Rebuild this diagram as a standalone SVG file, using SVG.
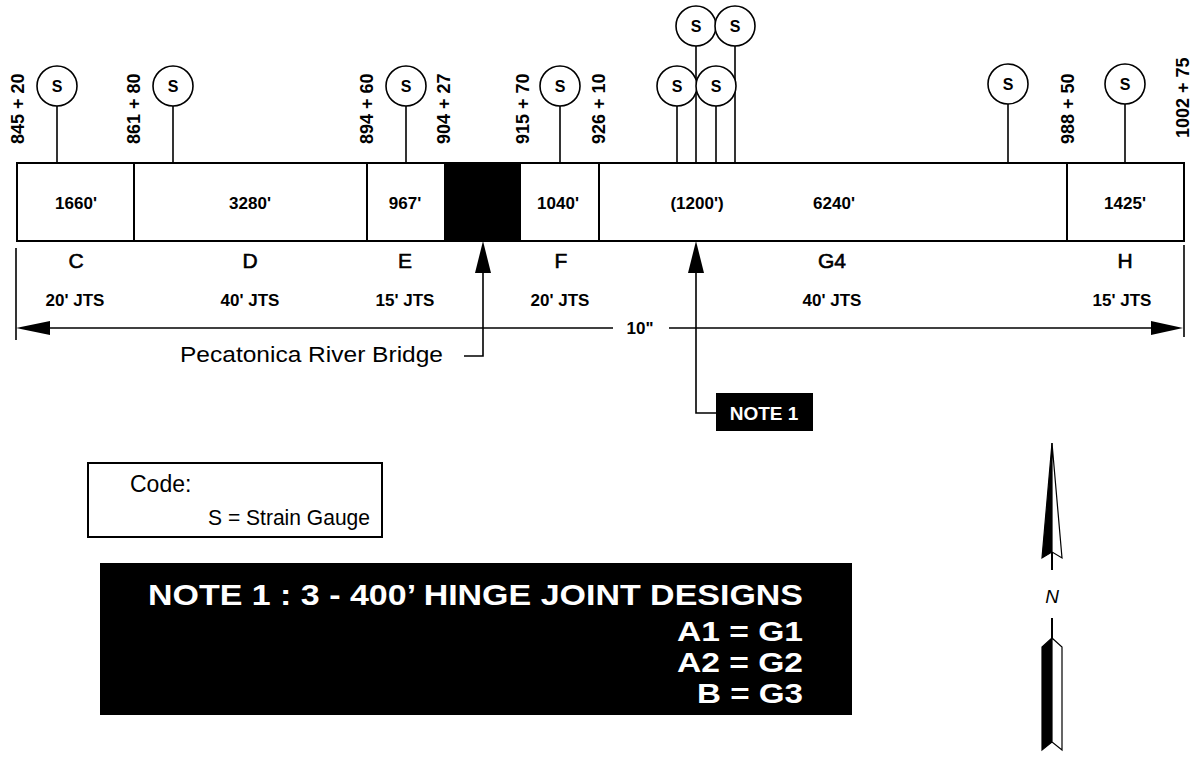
<svg xmlns="http://www.w3.org/2000/svg" width="1198" height="761" viewBox="0 0 1198 761">
<style>
text{font-family:"Liberation Sans",Arial,Helvetica,sans-serif;fill:#000}
.st{font-size:18px;font-weight:bold}
.seg{font-size:17px;font-weight:bold;text-anchor:middle}
.let{font-size:21px;text-anchor:middle;stroke:#000;stroke-width:0.6}
.jts{font-size:17px;font-weight:bold;text-anchor:middle}
.s{font-size:16px;font-weight:bold;text-anchor:middle}
.ln{stroke:#000;stroke-width:2;fill:none}
.thin{stroke:#000;stroke-width:1.6;fill:none}
.circ{stroke:#000;stroke-width:1.6;fill:#fff}
.wt{fill:#fff;font-weight:bold;text-anchor:end}
</style>
<rect width="1198" height="761" fill="#fff"/>

<g id="bar">
<rect x="17" y="163" width="1167" height="78" class="ln"/>
<rect x="444" y="163" width="77" height="78" fill="#000"/>
<line x1="134" y1="163" x2="134" y2="241" class="ln"/>
<line x1="367" y1="163" x2="367" y2="241" class="ln"/>
<line x1="599" y1="163" x2="599" y2="241" class="ln"/>
<line x1="1067" y1="163" x2="1067" y2="241" class="ln"/>
<text class="seg" x="76" y="209">1660'</text>
<text class="seg" x="250" y="209">3280'</text>
<text class="seg" x="405" y="209">967'</text>
<text class="seg" x="558" y="209">1040'</text>
<text class="seg" x="697" y="209">(1200')</text>
<text class="seg" x="834" y="209">6240'</text>
<text class="seg" x="1125" y="209">1425'</text>
</g>

<g id="stations">
<text class="st" transform="translate(23.5,144) rotate(-90)">845 + 20</text>
<text class="st" transform="translate(139.5,144) rotate(-90)">861 + 80</text>
<text class="st" transform="translate(372.5,144) rotate(-90)">894 + 60</text>
<text class="st" transform="translate(449.5,144) rotate(-90)">904 + 27</text>
<text class="st" transform="translate(528.5,144) rotate(-90)">915 + 70</text>
<text class="st" transform="translate(604.5,144) rotate(-90)">926 + 10</text>
<text class="st" transform="translate(1073.5,144) rotate(-90)">988 + 50</text>
<text class="st" transform="translate(1188.5,138) rotate(-90)">1002 + 75</text>
</g>

<g id="connectors">
<line x1="57" y1="106" x2="57" y2="163" class="thin"/>
<line x1="173" y1="106" x2="173" y2="163" class="thin"/>
<line x1="406" y1="106" x2="406" y2="163" class="thin"/>
<line x1="560" y1="106" x2="560" y2="163" class="thin"/>
<line x1="677" y1="106" x2="677" y2="163" class="thin"/>
<line x1="716" y1="106" x2="716" y2="163" class="thin"/>
<line x1="696" y1="46" x2="696" y2="163" class="thin"/>
<line x1="735" y1="46" x2="735" y2="163" class="thin"/>
<line x1="1008" y1="104" x2="1008" y2="163" class="thin"/>
<line x1="1125" y1="104" x2="1125" y2="163" class="thin"/>
<line x1="16" y1="248" x2="16" y2="340" class="thin"/>
<line x1="1184" y1="245" x2="1184" y2="337" class="thin"/>
<line x1="40" y1="328" x2="613" y2="328" class="thin"/>
<line x1="669" y1="328" x2="1160" y2="328" class="thin"/>
<polygon points="16,328 50,321 50,335" fill="#000"/>
<polygon points="1183,328 1151,321 1151,335" fill="#000"/>
<polyline points="464,356 483,356 483,270" class="thin"/>
<polygon points="483,241 475,273 491,273" fill="#000"/>
<polyline points="716,413 696,413 696,270" class="thin"/>
<polygon points="696,241 688,273 704,273" fill="#000"/>
</g>

<g id="gauges">
<g id="g1"><circle cx="57" cy="86" r="20" class="circ"/><text class="s" x="57" y="92">S</text></g>
<g id="g2"><circle cx="173" cy="86" r="20" class="circ"/><text class="s" x="173" y="92">S</text></g>
<g id="g3"><circle cx="406" cy="86" r="20" class="circ"/><text class="s" x="406" y="92">S</text></g>
<g id="g4"><circle cx="560" cy="86" r="20" class="circ"/><text class="s" x="560" y="92">S</text></g>
<g id="g5"><circle cx="677" cy="86" r="20" class="circ"/><text class="s" x="677" y="92">S</text></g>
<g id="g6"><circle cx="716" cy="86" r="20" class="circ"/><text class="s" x="716" y="92">S</text></g>
<g id="g7"><circle cx="696" cy="26" r="20" class="circ"/><text class="s" x="696" y="32">S</text></g>
<g id="g8"><circle cx="735" cy="26" r="20" class="circ"/><text class="s" x="735" y="32">S</text></g>
<g id="g9"><circle cx="1008" cy="84" r="20" class="circ"/><text class="s" x="1008" y="90">S</text></g>
<g id="g10"><circle cx="1125" cy="84" r="20" class="circ"/><text class="s" x="1125" y="90">S</text></g>
</g>

<g id="sections">
<text class="let" x="76" y="268">C</text>
<text class="let" x="250" y="268">D</text>
<text class="let" x="405" y="268">E</text>
<text class="let" x="561" y="268">F</text>
<text class="let" x="832" y="268">G4</text>
<text class="let" x="1125" y="268">H</text>
<text class="jts" x="75" y="306">20' JTS</text>
<text class="jts" x="250" y="306">40' JTS</text>
<text class="jts" x="405" y="306">15' JTS</text>
<text class="jts" x="560" y="306">20' JTS</text>
<text class="jts" x="832" y="306">40' JTS</text>
<text class="jts" x="1122" y="306">15' JTS</text>
<text class="jts" x="640" y="334">10"</text>
</g>

<g id="bridge-label">
<text x="443" y="362" font-size="22" text-anchor="end" textLength="263" lengthAdjust="spacingAndGlyphs">Pecatonica River Bridge</text>
</g>

<g id="note1-tag">
<rect x="716" y="393" width="97" height="38" fill="#000"/>
<text x="764" y="420" font-size="19" text-anchor="middle" font-weight="bold" style="fill:#fff">NOTE 1</text>
</g>

<g id="code-box">
<rect x="88" y="463" width="294" height="74" class="ln"/>
<text x="130" y="492" font-size="23">Code:</text>
<text x="208" y="525" font-size="22" textLength="162" lengthAdjust="spacingAndGlyphs">S = Strain Gauge</text>
</g>

<g id="note1-box">
<rect x="100" y="563" width="752" height="152" fill="#000"/>
<text class="wt" x="803" y="605" font-size="30" textLength="655" lengthAdjust="spacingAndGlyphs">NOTE 1 : 3 - 400’ HINGE JOINT DESIGNS</text>
<text class="wt" x="803" y="641" font-size="27" textLength="126" lengthAdjust="spacingAndGlyphs">A1 = G1</text>
<text class="wt" x="803" y="672" font-size="27" textLength="126" lengthAdjust="spacingAndGlyphs">A2 = G2</text>
<text class="wt" x="803" y="703" font-size="27" textLength="106" lengthAdjust="spacingAndGlyphs">B = G3</text>
</g>

<g id="north-arrow">
<path d="M1052,443 L1042,558 L1052,552 Z" fill="#000" stroke="#000" stroke-width="1.2"/>
<path d="M1052,443 L1062,558 L1052,552 Z" fill="#fff" stroke="#000" stroke-width="1.2"/>
<line x1="1052" y1="552" x2="1052" y2="570" stroke="#000" stroke-width="2"/>
<text x="1052" y="603" font-size="19" font-style="italic" text-anchor="middle">N</text>
<line x1="1052" y1="618" x2="1052" y2="640" stroke="#000" stroke-width="2"/>
<path d="M1052,638 L1042,647 L1042,750 L1052,742 Z" fill="#000" stroke="#000" stroke-width="1.2"/>
<path d="M1052,638 L1062,647 L1062,750 L1052,742 Z" fill="#fff" stroke="#000" stroke-width="1.2"/>
</g>
</svg>
